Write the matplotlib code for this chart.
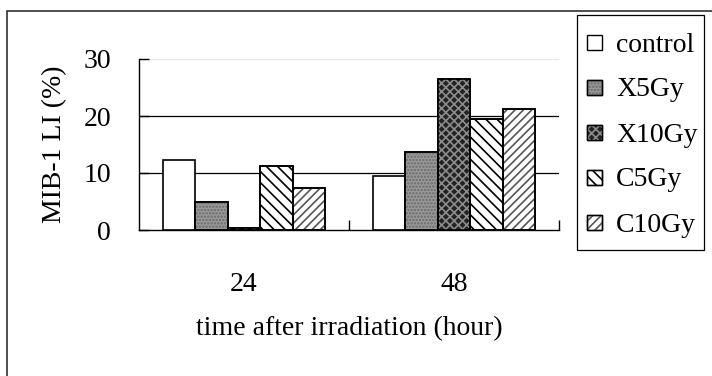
import numpy as np
import matplotlib
matplotlib.use('Agg')
import matplotlib.pyplot as plt
from matplotlib.patches import Rectangle

plt.rcParams['font.family'] = ['Liberation Serif', 'DejaVu Serif']
plt.rcParams['hatch.linewidth'] = 1.2

# data
hours = ['24', '48']
groups = ['control', 'X5Gy', 'X10Gy', 'C5Gy', 'C10Gy']
control = [12.2, 9.5]
x5gy = [4.9, 13.6]
x10gy = [0.3, 26.5]
c5gy = [11.2, 19.5]
c10gy = [7.3, 21.3]
values = [control, x5gy, x10gy, c5gy, c10gy]

# style per series: face colour, hatch, hatch colour
faces = ['white', '#9a9a9a', '#222222', 'white', 'white']
hatches = [None, '.....', 'xxxx', '\\\\\\', '////']
hcolors = [None, '#6a6a6a', '#8c8c8c', 'black', '#555555']

W, H = 712, 376
fig = plt.figure(figsize=(W / 100, H / 100), dpi=100)
ax = fig.add_axes([139 / W, 1 - 230 / H, (559 - 139) / W, (230 - 59) / H])

x = np.arange(len(hours))
w = 0.154
for i, (name, vals) in enumerate(zip(groups, values)):
    pos = x + (i - 2) * w
    ax.bar(pos, vals, w, color=faces[i], edgecolor='black', linewidth=1.2, zorder=3)
    if hatches[i]:
        ax.bar(pos, vals, w, color='none', edgecolor=hcolors[i], hatch=hatches[i],
               linewidth=0, zorder=3.5)
        ax.bar(pos, vals, w, color='none', edgecolor='black', linewidth=1.2, zorder=4)

ax.set_xlim(-0.5, 1.5)
ax.set_ylim(0, 30)
ax.set_yticks([0, 10, 20, 30])
ax.set_xticks(x)
ax.set_xticklabels(hours)
ax.set_xticks([0.5, 1.5], minor=True)
ax.tick_params(axis='x', which='major', length=0, pad=30, labelsize=20)
ax.tick_params(axis='x', which='minor', direction='in', length=7, width=1)
ax.tick_params(axis='y', direction='in', length=7, width=1, pad=20, labelsize=20)
for v in [10, 20]:
    ax.axhline(v, color='black', linewidth=0.9, zorder=1)
ax.axhline(30, color='#e8e8e8', linewidth=0.9, zorder=1)

for s in ['top', 'right']:
    ax.spines[s].set_visible(False)
ax.spines['left'].set_linewidth(1.0)
ax.spines['bottom'].set_linewidth(1.0)

ax.set_ylabel('MIB-1 LI (%)', fontsize=20, labelpad=12)
ax.set_xlabel('time after irradiation (hour)', fontsize=20, labelpad=14)

# legend drawn by hand (box, swatches, labels)
fig.patches.append(Rectangle((577 / W, 1 - 250 / H), 127 / W, 235 / H,
                             transform=fig.transFigure, fill=False,
                             edgecolor='black', linewidth=0.9))
row_y = 42
for i, name in enumerate(groups):
    yc = 1 - row_y / H
    sw, sh = 15 / W, 15 / H
    fig.patches.append(Rectangle((587 / W, yc - sh / 2), sw, sh, transform=fig.transFigure,
                                 facecolor=faces[i], edgecolor='black', linewidth=1.0))
    if hatches[i]:
        fig.patches.append(Rectangle((587 / W, yc - sh / 2), sw, sh, transform=fig.transFigure,
                                     facecolor='none', edgecolor=hcolors[i],
                                     hatch=hatches[i], linewidth=0))
        fig.patches.append(Rectangle((587 / W, yc - sh / 2), sw, sh, transform=fig.transFigure,
                                     facecolor='none', edgecolor='black', linewidth=1.0))
    fig.text(616 / W, yc, name, fontsize=20, ha='left', va='center_baseline')
    row_y += 45

# outer border of the figure
fig.patches.append(Rectangle((6.5 / W, -0.05), 1.1, 1 - 11 / H + 0.05,
                             transform=fig.transFigure, fill=False,
                             edgecolor='#303030', linewidth=1.2))

fig.savefig('out.png', dpi=100)
